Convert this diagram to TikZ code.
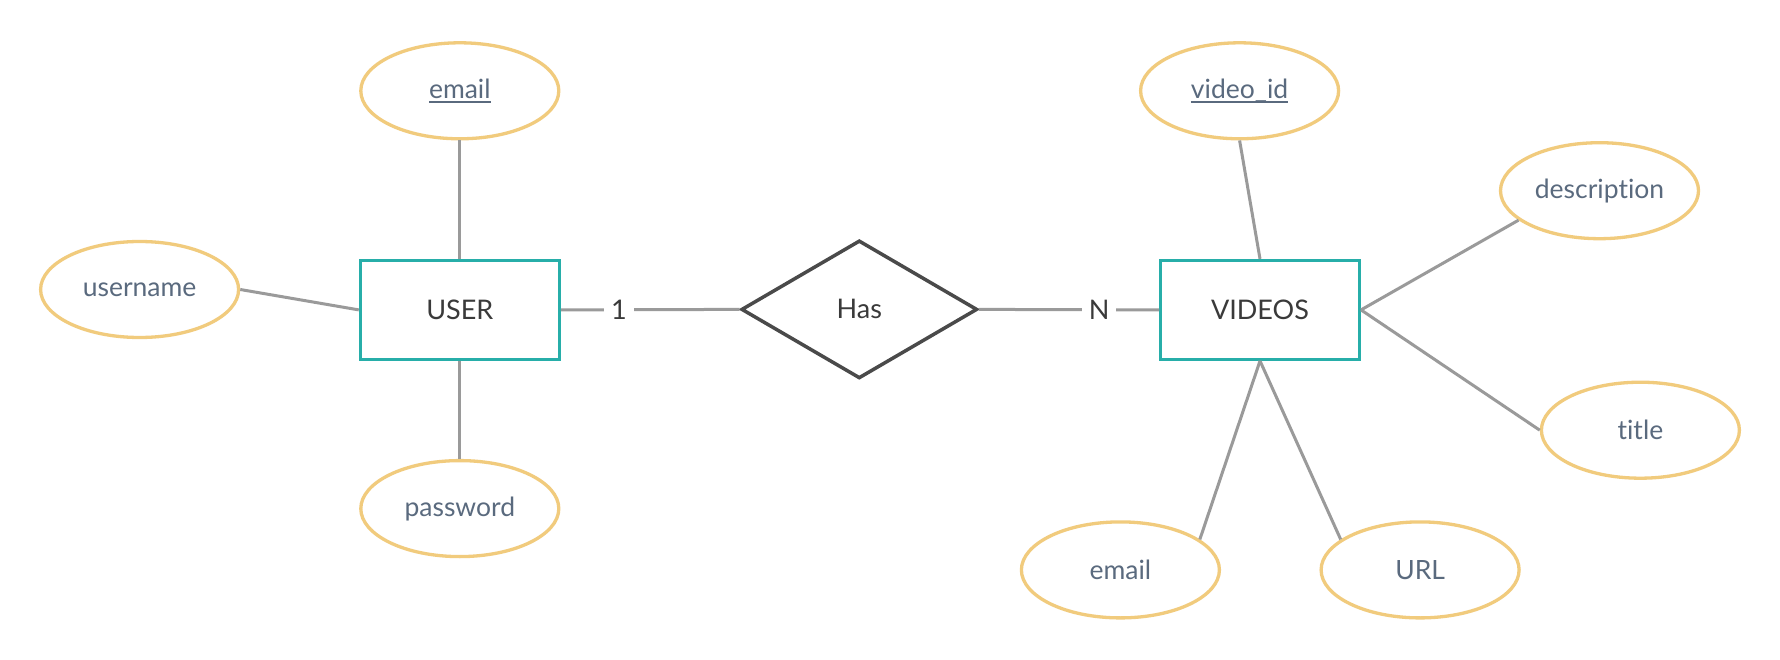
\documentclass[tikz,border=0pt]{standalone}
\usepackage{fontspec}
\setmainfont{Lato}[Ligatures={NoCommon,NoContextual}]
\usetikzlibrary{shapes.geometric}
\definecolor{attrline}{HTML}{F1CB7D}
\definecolor{entline}{HTML}{27AEA9}
\definecolor{attrtext}{HTML}{5A6A7E}
\definecolor{enttext}{HTML}{3A3A3A}
\definecolor{relline}{HTML}{4A4A4A}
\definecolor{conn}{HTML}{9A9A9A}
\newcommand\keyul[1]{\setbox0\hbox{#1}\rlap{\rule[-4.5pt]{\wd0}{1.8pt}}\box0}
\begin{document}
\begin{tikzpicture}[x=1pt,y=-1pt,
  attr/.style={ellipse, draw=attrline, line width=3.3pt, minimum width=198pt, minimum height=96pt, inner sep=0pt, text=attrtext, font=\fontsize{26.5}{30}\selectfont},
  ent/.style={rectangle, draw=entline, line width=3pt, minimum width=199pt, minimum height=99pt, inner sep=0pt, text=enttext, font=\fontsize{27}{31}\selectfont},
  rel/.style={diamond, draw=relline, line width=3.5pt, minimum width=236pt, minimum height=138pt, inner sep=0pt, text=enttext, font=\fontsize{27}{31}\selectfont},
  link/.style={draw=conn, line width=3pt},
  card/.style={fill=white, inner sep=7pt, text=enttext, font=\fontsize{27}{31}\selectfont}]
\fill[white] (0,0) rectangle (1780,660);
\useasboundingbox (0,0) rectangle (1780,660);
% entities and relationship
\node[ent] (user) at (459.8,309.9) {USER};
\node[ent] (videos) at (1260,309.9) {VIDEOS};
\node[rel] (has) at (859.3,309.4) {Has};
% attributes of USER
\node[attr] (uemail) at (459.8,90.8) {\keyul{email}};
\node[attr] (uname) at (139.6,289.5) {username};
\node[attr] (upass) at (459.8,508.6) {password};
% attributes of VIDEOS
\node[attr] (vid) at (1239.6,90.8) {\keyul{video\_id}};
\node[attr] (desc) at (1599.5,190.7) {description};
\node[attr] (title) at (1640.4,430.2) {title};
\node[attr] (vemail) at (1120.4,569.9) {email};
\node[attr] (url) at (1420.1,569.9) {URL};
% connectors
\draw[link] (uemail.south) -- (user.north);
\draw[link] (uname.east) -- (user.west);
\draw[link] (user.south) -- (upass.north);
\draw[link] (vid.south) -- (videos.north);
\draw[link] (videos.east) -- (desc.200);
\draw[link] (videos.east) -- (title.west);
\draw[link] (videos.south) -- (vemail.21);
\draw[link] (videos.south) -- (url.159);
\draw[link] (user.east) -- node[card, pos=0.325] (c1) {1} (has.west);
\draw[link] (has.east) -- node[card, pos=0.667] (cn) {N} (videos.west);
\end{tikzpicture}
\end{document}
